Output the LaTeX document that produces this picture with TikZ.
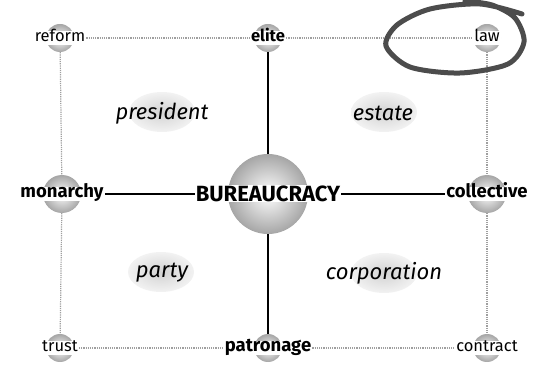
\documentclass[tikz,border=0pt]{standalone}
\usepackage{fontspec}
\setmainfont{Fira Sans}
\usetikzlibrary{shapes.geometric}

\begin{document}
\begin{tikzpicture}[x=1pt,y=-1pt,font=\fontsize{16.5}{18}\selectfont]
\tikzstyle{ball}=[circle,shading=radial,inner color=white,outer color=gray!70,minimum size=28pt,inner sep=0pt]
\tikzstyle{bigball}=[ball,minimum size=80pt]
\tikzstyle{midball}=[ball,minimum size=38pt]
\tikzstyle{lbl}=[fill=white,inner xsep=1pt,inner ysep=0pt,text height=11pt,text depth=3.5pt]
\tikzstyle{bld}=[lbl,font=\fontsize{18.5}{20}\selectfont\bfseries]
\tikzstyle{blob}=[ellipse,shading=radial,inner color=gray!35,outer color=gray!10,minimum width=66pt,minimum height=40pt]
\tikzstyle{itl}=[font=\fontsize{22}{24}\selectfont\itshape]
\tikzstyle{dot}=[gray!75,densely dotted,line width=1.2pt]
\tikzstyle{solid}=[black,line width=1.5pt]
\useasboundingbox (0,0) rectangle (544,366);
% spheres
\node[ball] (bre) at (60,38) {};
\node[ball] (bel) at (268,38) {};
\node[ball] (bla) at (487,38) {};
\node[midball] (bmo) at (62,194) {};
\node[bigball] (bbu) at (268,194) {};
\node[midball] (bco) at (487,194) {};
\node[ball] (btr) at (60,348) {};
\node[ball] (bpa) at (268,348) {};
\node[ball] (bct) at (487,348) {};
% quadrant blobs
\node[blob] (e1) at (162,112) {};
\node[blob] (e2) at (384,112) {};
\node[blob] (e3) at (161,272) {};
\node[blob] (e4) at (384,273) {};
\node[itl] at (162,113) {president};
\node[itl] at (383,113) {estate};
\node[itl] at (162,273) {party};
\node[itl] at (384,273) {corporation};
% labels
\node[lbl] (re) at (60,38) {reform};
\node[bld,font=\fontsize{16.5}{18}\selectfont\bfseries] (el) at (268,38) {elite};
\node[lbl] (la) at (487,38) {law};
\node[bld] (mo) at (62,194) {monarchy};
\node[lbl,font=\fontsize{22}{24}\selectfont\bfseries,text height=16pt,text depth=1pt] (bu) at (268,194) {BUREAUCRACY};
\node[bld] (co) at (487,194) {collective};
\node[lbl] (tr) at (60,348) {trust};
\node[bld] (pa) at (268,348) {patronage};
\node[lbl] (ct) at (487,348) {contract};
% dotted frame
\draw[dot] (re) -- (el);
\draw[dot] (el) -- (la);
\draw[dot] (tr) -- (pa);
\draw[dot] (pa) -- (ct);
\draw[dot] (bre) -- (bmo);
\draw[dot] (bmo) -- (btr);
\draw[dot] (bla) -- (bco);
\draw[dot] (bco) -- (bct);
% solid cross
\draw[solid] (bel) -- (bbu);
\draw[solid] (bbu) -- (bpa);
\draw[solid] (mo) -- (bu);
\draw[solid] (bu) -- (co);
% scribble round law
\draw[black!70,line width=5pt,line cap=round,smooth] plot coordinates {(522,14) (480,4) (430,9) (397,25) (386,46) (410,67) (460,73) (508,64) (524,42) (515,18) (492,5) (465,1)};
\end{tikzpicture}
\end{document}
